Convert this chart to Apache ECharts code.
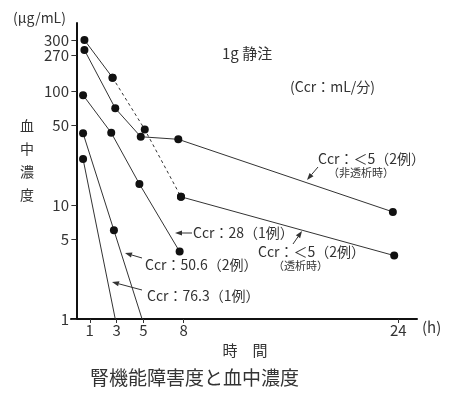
<!DOCTYPE html>
<html><head><meta charset="utf-8">
<script src="https://cdn.jsdelivr.net/npm/echarts@6/dist/echarts.min.js"></script>
<style>html,body{margin:0;padding:0;background:#fff}#c{width:450px;height:393px}</style>
</head><body><div id="c"></div>
<script>
// ---- data ----
const xTicks = [1, 3, 5, 8, 24];
const yTickPos = [1, 5, 10, 50, 100, 207, 280];
const yTickText = ['1', '5', '10', '50', '100', '270', '300'];

const hoursDialysis = [0.6, 2.7, 5.1, 7.8, 23.7];
const concDialysis = [280, 131, 46, 11.8, 3.6];
const dialysisDashStart = 1, dialysisDashEnd = 3;

const hoursNonDialysis = [0.6, 2.9, 4.8, 7.6, 23.6];
const concNonDialysis = [229, 70.5, 39.7, 37.7, 8.7];

const hoursCcr28 = [0.5, 2.6, 4.7, 7.7];
const concCcr28 = [92, 43, 15.3, 3.9];

const hoursCcr50 = [0.5, 2.8, 4.9];
const concCcr50 = [42.6, 6.0, 1];

const hoursCcr76 = [0.5, 2.9];
const concCcr76 = [25.3, 1];

const yMin = 1, yMax = 395;
const FONT = '"Noto Sans CJK JP", "Noto Sans", sans-serif';
const TXT = '#333';

function pts(xs, ys, from, to) {
  const out = [];
  for (let i = from; i <= to; i++) {
    const item = { value: [xs[i], ys[i]] };
    if (ys[i] <= yMin) item.symbol = 'none';
    out.push(item);
  }
  return out;
}
function lineSeries(data, dashed) {
  return {
    type: 'line', data: data, symbol: 'circle', symbolSize: 8,
    itemStyle: { color: '#111' },
    lineStyle: { color: '#333', width: 1, type: dashed ? [3, 3] : 'solid' },
    emphasis: { disabled: true }, animation: false, z: 3
  };
}
const series = [
  lineSeries(pts(hoursDialysis, concDialysis, 0, dialysisDashStart), false),
  lineSeries(pts(hoursDialysis, concDialysis, dialysisDashStart, dialysisDashEnd), true),
  lineSeries(pts(hoursDialysis, concDialysis, dialysisDashEnd, hoursDialysis.length - 1), false),
  lineSeries(pts(hoursNonDialysis, concNonDialysis, 0, hoursNonDialysis.length - 1), false),
  lineSeries(pts(hoursCcr28, concCcr28, 0, hoursCcr28.length - 1), false),
  lineSeries(pts(hoursCcr50, concCcr50, 0, hoursCcr50.length - 1), false),
  lineSeries(pts(hoursCcr76, concCcr76, 0, hoursCcr76.length - 1), false)
];

function arrow(x1, y1, x2, y2) {
  const a = Math.atan2(y2 - y1, x2 - x1), L = 7, W = 2.6;
  const bx = x2 - L * Math.cos(a), by = y2 - L * Math.sin(a);
  const px = -Math.sin(a) * W, py = Math.cos(a) * W;
  return [
    { type: 'line', shape: { x1: x1, y1: y1, x2: bx, y2: by }, style: { stroke: '#333', lineWidth: 1 } },
    { type: 'polygon', shape: { points: [[x2, y2], [bx + px, by + py], [bx - px, by - py]] }, style: { fill: '#333' } }
  ];
}
function txt(x, y, s, size, extra) {
  return Object.assign({ type: 'text', x: x, y: y,
    style: Object.assign({ text: s, font: size + 'px ' + FONT, fill: TXT, verticalAlign: 'middle' }, extra || {}) });
}

const graphics = [].concat(
  txt(13, 18, '(μg/mL)', 14),
  txt(27, 160, '血\n中\n濃\n度', 14, { align: 'center', lineHeight: 23 }),
  txt(222, 53, '1g 静注', 15),
  txt(290, 87, '(Ccr：mL/分)', 14),
  txt(318, 159, 'Ccr：＜5（2例）', 14),
  txt(328, 173, '（非透析時）', 11),
  txt(193, 233, 'Ccr：28（1例）', 14),
  txt(258, 252, 'Ccr：＜5（2例）', 14),
  txt(273, 266, '（透析時）', 11),
  txt(145, 265, 'Ccr：50.6（2例）', 14),
  txt(147, 296, 'Ccr：76.3（1例）', 14),
  txt(422, 327, '(h)', 15),
  txt(245, 350, '時　間', 15, { align: 'center' }),
  txt(90, 378, '腎機能障害度と血中濃度', 19),
  arrow(318, 167, 307, 180),
  arrow(192, 233, 175, 233),
  arrow(293, 244, 302, 231),
  arrow(142, 258, 125, 253),
  arrow(142, 290, 112, 282)
);

const chart = echarts.init(document.getElementById('c'), null, { renderer: 'canvas' });
chart.setOption({
  animation: false,
  backgroundColor: '#fff',
  grid: { left: 71, right: 33, top: 23, bottom: 74 },
  xAxis: {
    type: 'value', min: -0.4, max: 25.4,
    axisLine: { show: true, lineStyle: { color: '#111', width: 2 } },
    axisTick: { show: true, customValues: xTicks, length: 4, lineStyle: { color: '#333' } },
    axisLabel: { customValues: xTicks, color: TXT, fontSize: 15, fontFamily: FONT, margin: 4 },
    splitLine: { show: false }
  },
  yAxis: {
    type: 'log', logBase: 10, min: yMin, max: yMax,
    axisLine: { show: true, lineStyle: { color: '#111', width: 2 } },
    axisTick: { show: true, customValues: yTickPos, length: 5, lineStyle: { color: '#333' } },
    axisLabel: {
      customValues: yTickPos, color: TXT, fontSize: 15, fontFamily: FONT, margin: 2,
      formatter: function (v) {
        let best = 0;
        for (let i = 0; i < yTickPos.length; i++) if (Math.abs(yTickPos[i] - v) < Math.abs(yTickPos[best] - v)) best = i;
        return yTickText[best];
      }
    },
    splitLine: { show: false }
  },
  series: series,
  graphic: graphics
});
</script></body></html>
